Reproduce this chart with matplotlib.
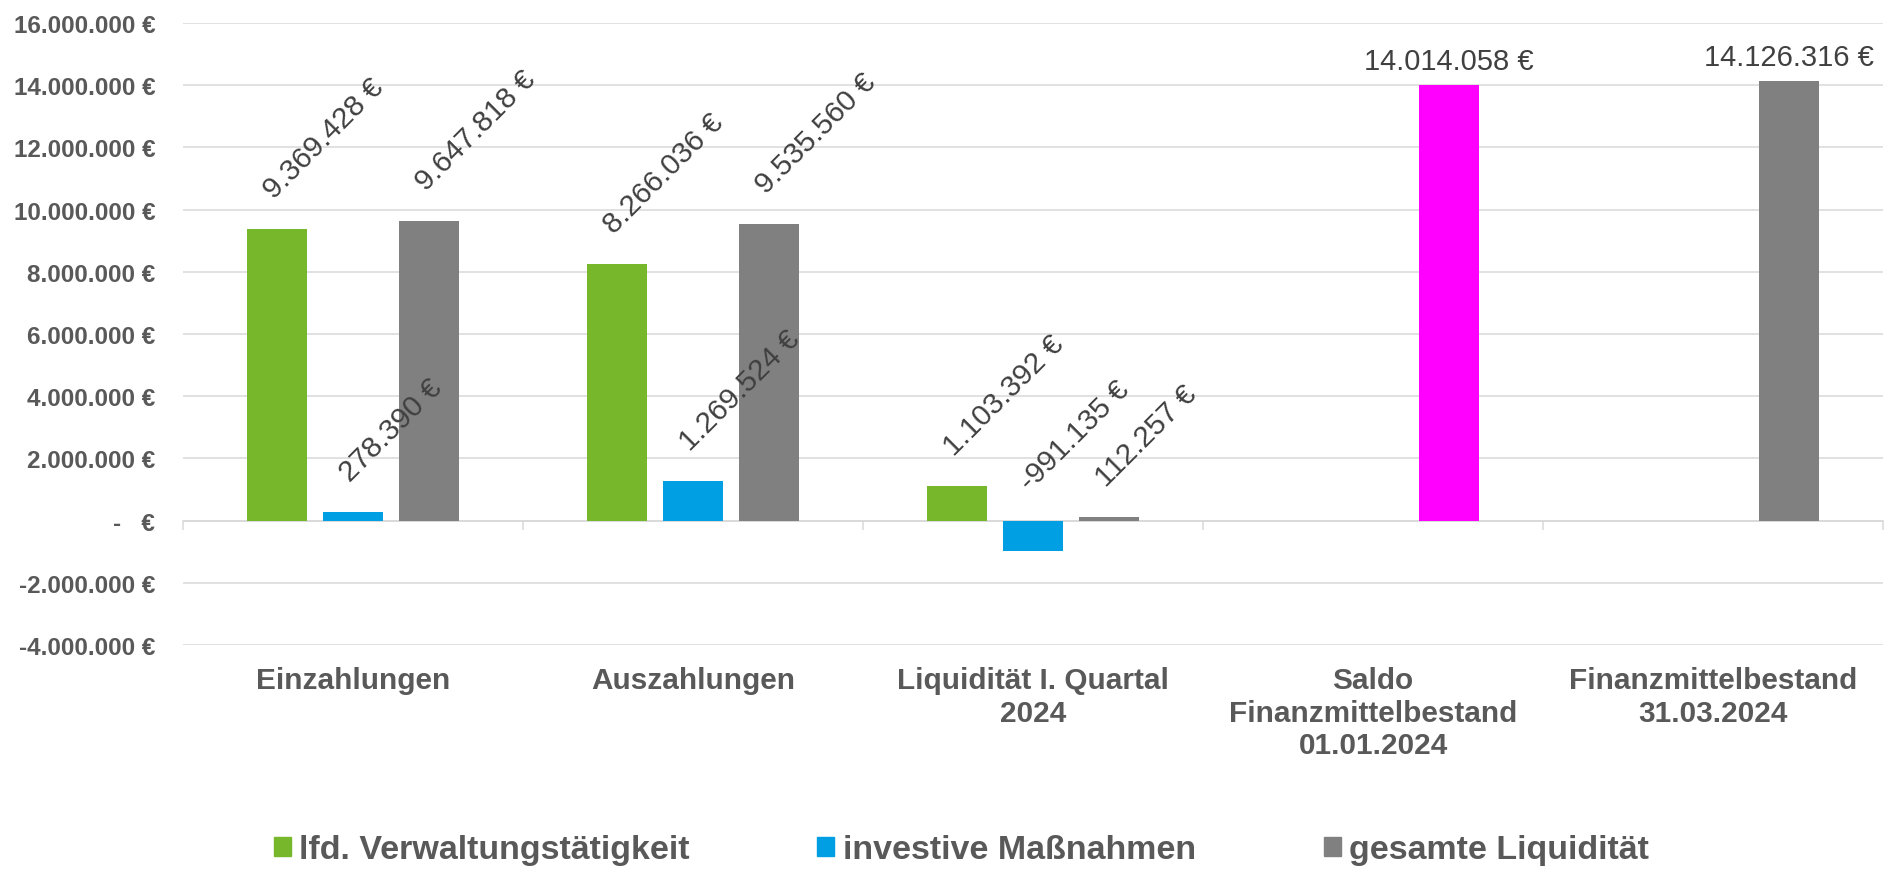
import numpy as np
import matplotlib
matplotlib.use("Agg")
import matplotlib.pyplot as plt
from matplotlib.patches import Patch

plt.rcParams['font.family'] = ['Liberation Sans', 'DejaVu Sans']

categories = ['Einzahlungen', 'Auszahlungen', 'Liquidität I. Quartal\n2024',
              'Saldo\nFinanzmittelbestand\n01.01.2024', 'Finanzmittelbestand\n31.03.2024']
series_names = ['lfd. Verwaltungstätigkeit', 'investive Maßnahmen', 'gesamte Liquidität']
lfd = [9369428, 8266036, 1103392, np.nan, np.nan]
investiv = [278390, 1269524, -991135, np.nan, np.nan]
gesamt = [9647818, 9535560, 112257, 14014058, 14126316]
series_colors = ['#77B72B', '#009FE3', '#808080']
gesamt_colors = ['#808080', '#808080', '#808080', '#FF00FF', '#808080']
yticks = np.arange(-4000000, 16000001, 2000000)

txt_gray = '#595959'
grid_gray = '#D9D9D9'


def euro(v):
    if v == 0:
        return '-   €'
    return '{:,.0f} €'.format(v).replace(',', '.')


fig = plt.figure(figsize=(18.85, 8.70), dpi=100)
ax = fig.add_axes([183 / 1885, 1 - 646 / 870, 1700 / 1885, 622 / 870])

x = np.arange(len(categories))
step = 0.2235
width = 0.174
data = [lfd, investiv, gesamt]
for j, vals in enumerate(data):
    cols = gesamt_colors if j == 2 else series_colors[j]
    ax.bar(x + (j - 1) * step, vals, width, color=cols, zorder=3)

# value labels
for j, vals in enumerate(data):
    for i, v in enumerate(vals):
        if np.isnan(v):
            continue
        xp = x[i] + (j - 1) * step
        if i >= 3:
            ax.annotate(euro(v), (xp, v), xytext=(0, 10), textcoords='offset pixels',
                        ha='center', va='bottom', fontsize=21, color='#404040')
        else:
            ax.annotate(euro(v), (xp, max(v, 0)), xytext=(-3, 30), textcoords='offset pixels',
                        ha='left', va='baseline', rotation=45, rotation_mode='anchor',
                        fontsize=21.3, color='#404040', zorder=4)

ax.set_xlim(-0.5, len(categories) - 0.5)
ax.set_ylim(-4000000, 16000000)
ax.set_yticks(yticks)
ax.set_yticklabels([euro(v) for v in yticks], fontsize=17.5, fontweight='bold', color=txt_gray)
ax.tick_params(axis='y', length=0, pad=20)
ax.yaxis.grid(True, color=grid_gray, linewidth=1.1, zorder=0)

for s in ['left', 'right', 'top']:
    ax.spines[s].set_visible(False)
ax.spines['bottom'].set_position(('data', 0))
ax.spines['bottom'].set_color(grid_gray)
ax.spines['bottom'].set_linewidth(1.1)
ax.spines['bottom'].set_zorder(2)
ax.set_xticks(np.arange(-0.5, len(categories), 1))
ax.tick_params(axis='x', length=6.5, width=1.1, color=grid_gray, labelbottom=False)

for i, c in enumerate(categories):
    ax.text(x[i], -0.034, c, transform=ax.get_xaxis_transform(), ha='center', va='top',
            fontsize=21.4, fontweight='bold', color=txt_gray, linespacing=1.2)

handles = [Patch(color=c) for c in series_colors]
fig.legend(handles, series_names, loc='center', bbox_to_anchor=(0.51, 1 - 851 / 870),
           ncol=3, frameon=False, handlelength=0.5, handleheight=0.5, handletextpad=0.25,
           columnspacing=3.75, prop={'size': 24.5, 'weight': 'bold'}, labelcolor=txt_gray)

fig.savefig('out.png', dpi=100)
